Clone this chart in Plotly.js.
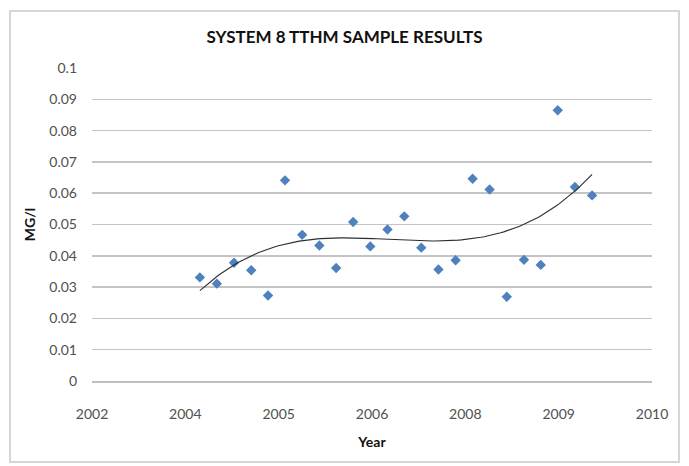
<!DOCTYPE html>
<html>
<head>
<meta charset="utf-8">
<script src="https://cdn.plot.ly/plotly-3.0.1.min.js"></script>
<style>
  html, body { margin: 0; padding: 0; background: #ffffff; }
  #wrap { position: relative; width: 689px; height: 466px; }
  #chart { position: absolute; left: 0; top: 0; width: 689px; height: 466px; }
  #frame { position: absolute; left: 9px; top: 10px; width: 667px; height: 449px;
           border: 2px solid #d6d6d6; pointer-events: none; }
</style>
</head>
<body>
<div id="wrap">
  <div id="chart"></div>
  <div id="frame"></div>
</div>
<script>
// Sample dates (quarterly) and TTHM results (mg/l)
const sampleDates = [
  '2004-04-15','2004-07-15','2004-10-15','2005-01-15',
  '2005-04-15','2005-07-15','2005-10-15','2006-01-15',
  '2006-04-15','2006-07-15','2006-10-15','2007-01-15',
  '2007-04-15','2007-07-15','2007-10-15','2008-01-15',
  '2008-04-15','2008-07-15','2008-10-15','2009-01-15',
  '2009-04-15','2009-07-15','2009-10-15','2010-01-15'
];
const tthmValues = [
  0.0331, 0.0311, 0.0378, 0.0354,
  0.0273, 0.0641, 0.0467, 0.0433,
  0.0361, 0.0508, 0.0430, 0.0484,
  0.0526, 0.0426, 0.0356, 0.0386,
  0.0646, 0.0612, 0.0269, 0.0387,
  0.0371, 0.0865, 0.0620, 0.0593
];
const axisStart = '2002-09-15';
const tickStepDays = 500;
const tickLabels = ['2002','2004','2005','2006','2008','2009','2010'];
const yTickVals = [0,0.01,0.02,0.03,0.04,0.05,0.06,0.07,0.08,0.09,0.1];
const yTickText = ['0','0.01','0.02','0.03','0.04','0.05','0.06','0.07','0.08','0.09','0.1'];

const DAY = 86400000;
const startMs = Date.parse(axisStart + 'T00:00:00Z');
function isoDate(ms) { return new Date(ms).toISOString().slice(0,10); }
const tickVals = tickLabels.map((_, i) => isoDate(startMs + i * tickStepDays * DAY));
const endDate = isoDate(startMs + (tickLabels.length - 1) * tickStepDays * DAY);

// Polynomial (order 3) trendline, least squares on the data
const xs = sampleDates.map(d => (Date.parse(d + 'T00:00:00Z') - startMs) / DAY);
const xMean = xs.reduce((a,b)=>a+b,0) / xs.length;
const xScale = 1000;
const ts = xs.map(x => (x - xMean) / xScale);
const deg = 3;
const A = [], B = [];
for (let r = 0; r <= deg; r++) {
  A.push([]);
  for (let c = 0; c <= deg; c++) A[r].push(ts.reduce((s,t)=>s+Math.pow(t,r+c),0));
  B.push(ts.reduce((s,t,i)=>s+Math.pow(t,r)*tthmValues[i],0));
}
const n = deg + 1;
for (let i = 0; i < n; i++) {
  let p = i;
  for (let k = i+1; k < n; k++) if (Math.abs(A[k][i]) > Math.abs(A[p][i])) p = k;
  [A[i],A[p]] = [A[p],A[i]]; [B[i],B[p]] = [B[p],B[i]];
  for (let k = i+1; k < n; k++) {
    const f = A[k][i] / A[i][i];
    for (let c = i; c < n; c++) A[k][c] -= f * A[i][c];
    B[k] -= f * B[i];
  }
}
const coef = new Array(n).fill(0);
for (let i = n-1; i >= 0; i--) {
  let s = B[i];
  for (let c = i+1; c < n; c++) s -= A[i][c] * coef[c];
  coef[i] = s / A[i][i];
}
const trendX = [], trendY = [];
const x0 = xs[0], x1 = xs[xs.length-1];
for (let k = 0; k <= 120; k++) {
  const x = x0 + (x1 - x0) * k / 120;
  const t = (x - xMean) / xScale;
  let y = 0;
  for (let c = 0; c < n; c++) y += coef[c] * Math.pow(t, c);
  trendX.push(isoDate(startMs + Math.round(x) * DAY));
  trendY.push(y);
}

const font = 'Lato, "Open Sans", "DejaVu Sans", sans-serif';

const traces = [
  {
    type: 'scatter', mode: 'markers',
    x: sampleDates, y: tthmValues,
    marker: { symbol: 'diamond', size: 8, color: '#4F81BD', line: { width: 0 } },
    hoverinfo: 'x+y', showlegend: false
  },
  {
    type: 'scatter', mode: 'lines',
    x: trendX, y: trendY,
    line: { color: '#2e2e2e', width: 1.1 },
    hoverinfo: 'skip', showlegend: false
  }
];

const layout = {
  width: 689, height: 466,
  margin: { l: 92, r: 37, t: 68, b: 85 },
  paper_bgcolor: 'rgba(0,0,0,0)', plot_bgcolor: '#ffffff',
  showlegend: false,
  title: {
    text: '<b>SYSTEM 8 TTHM SAMPLE RESULTS</b>',
    font: { family: font, size: 17, color: '#111111' },
    x: 0.5, xanchor: 'center', y: 1 - 37/466, yanchor: 'middle'
  },
  xaxis: {
    type: 'date',
    range: [axisStart, endDate],
    tickmode: 'array', tickvals: tickVals, ticktext: tickLabels,
    showgrid: false, zeroline: false,
    showline: true, linecolor: '#bfbfbf', linewidth: 1.5,
    ticks: '', ticklabelstandoff: 20,
    tickfont: { family: font, size: 14, color: '#505050' },
    title: { text: '<b>Year</b>', font: { family: font, size: 14, color: '#111111' }, standoff: 16 },
    fixedrange: true
  },
  yaxis: {
    range: [0, 0.1],
    tickmode: 'array', tickvals: yTickVals, ticktext: yTickText,
    showgrid: true, gridcolor: '#c4c4c4', gridwidth: 1.5,
    zeroline: false, showline: false,
    ticks: '', ticklabelstandoff: 14,
    tickfont: { family: font, size: 14, color: '#505050' },
    title: { text: '<b>MG/l</b>', font: { family: font, size: 14, color: '#111111' }, standoff: 10 },
    fixedrange: true
  }
};

Plotly.newPlot('chart', traces, layout, { displayModeBar: false, staticPlot: true });
</script>
</body>
</html>
